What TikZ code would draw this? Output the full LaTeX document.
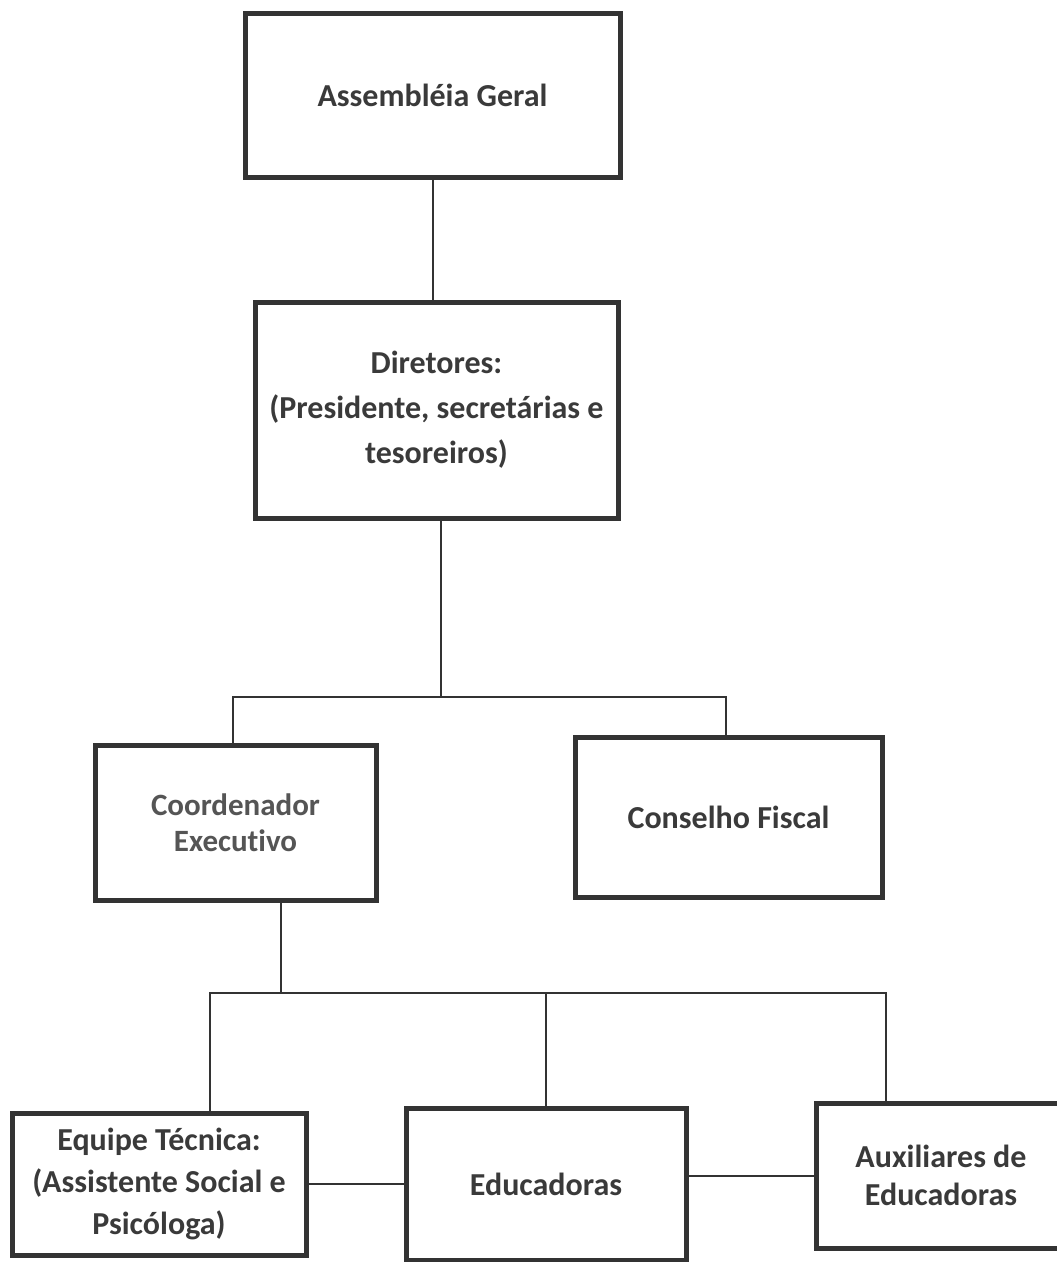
\documentclass[tikz,border=0pt]{standalone}
\usepackage{fontspec}
\setmainfont{Carlito}[Ligatures={NoCommon}]
\definecolor{boxline}{HTML}{333333}
\definecolor{txt}{HTML}{3A3A3A}
\definecolor{txtlight}{HTML}{555555}
\begin{document}
\begin{tikzpicture}[x=1pt,y=-1pt,
  orgbox/.style={draw=boxline, line width=5pt, fill=white, align=center, inner sep=0pt,
    text=txt, font=\fontsize{32}{45}\selectfont\bfseries},
  conn/.style={draw=boxline, line width=2pt}]
\useasboundingbox (0,0) rectangle (1057,1262);
\node[orgbox, minimum width=375, minimum height=164] (ag) at (432.5,95) {Assembléia Geral};
\node[orgbox, minimum width=363, minimum height=216] (dir) at (436.5,410) {Diretores:\\(Presidente, secretárias e\\tesoreiros)};
\node[orgbox, minimum width=281, minimum height=155, text=txtlight, font=\fontsize{31}{36}\selectfont\bfseries] (coord) at (235.5,822.5) {Coordenador\\Executivo};
\node[orgbox, minimum width=307, minimum height=160] (cf) at (728.5,817) {Conselho Fiscal};
\node[orgbox, minimum width=294, minimum height=142, font=\fontsize{32}{42}\selectfont\bfseries] (eq) at (159,1184) {Equipe Técnica:\\(Assistente Social e\\Psicóloga)};
\node[orgbox, minimum width=280, minimum height=152] (edu) at (546,1184) {Educadoras};
\node[orgbox, minimum width=250, minimum height=145, font=\fontsize{32}{38}\selectfont\bfseries] (aux) at (941,1175.5) {Auxiliares de\\Educadoras};
\coordinate (j1) at (441,697);
\coordinate (j2) at (281,993);
\draw[conn] (ag.south) -- (ag.south |- dir.north);
\draw[conn] (j1 |- dir.south) -- (j1);
\draw[conn] (j1) -| ([xshift=-2.5pt]coord.north);
\draw[conn] (j1) -| ([xshift=-2.5pt]cf.north);
\draw[conn] (j2 |- coord.south) -- (j2);
\draw[conn] (j2) -| ([xshift=51pt]eq.north);
\draw[conn] (j2) -| (edu.north);
\draw[conn] (j2) -| ([xshift=-55pt]aux.north);
\draw[conn] (eq.east) -- (eq.east -| edu.west);
\draw[conn] (aux.west -| edu.east) -- (aux.west);
\end{tikzpicture}
\end{document}
